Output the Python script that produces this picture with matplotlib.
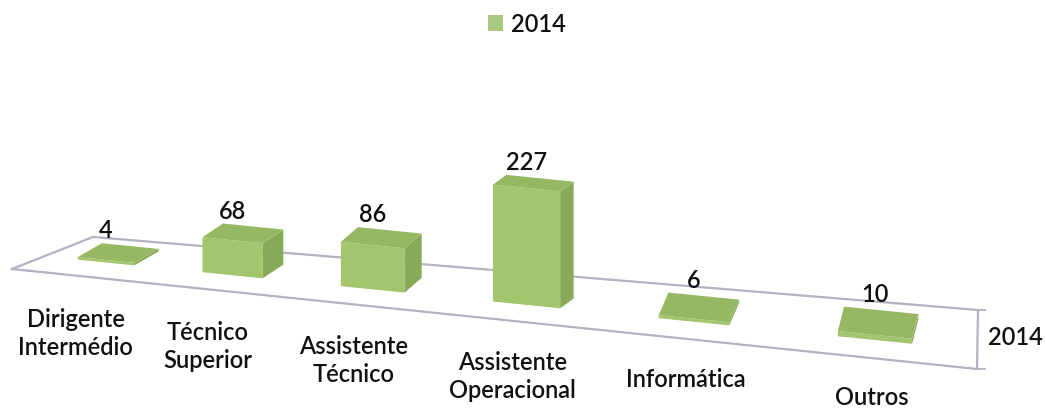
import numpy as np
import matplotlib.pyplot as plt
from matplotlib.patches import Polygon, Rectangle

plt.rcParams['font.family'] = ['Lato', 'DejaVu Sans']
plt.rcParams['font.weight'] = 'semibold'

# dados
categories = ['Dirigente\nIntermédio', 'Técnico\nSuperior', 'Assistente\nTécnico',
              'Assistente\nOperacional', 'Informática', 'Outros']
values_2014 = [4, 68, 86, 227, 6, 10]
series_name = '2014'

# cores
front_col = '#a2c56d'
top_col = '#97b862'
side_col = '#88a957'
floor_col = '#b5b0c2'
text_col = '#111111'
legend_col = '#a9c77f'

# chão (px): frente-esq, frente-dir, trás-dir, trás-esq
floor_pts = np.array([[12, 270], [977, 370], [978, 311], [93, 238]], float)
px_per_unit = 0.515


def front_center(u):
    # posição x do centro da face frontal (perspectiva aproximada)
    return 47.8 + 113 * u + 6.8 * u ** 2


def base_y(x):
    return 263.5 + 0.1008 * (x - 106)


def bar_faces(u, val):
    h = max(val * px_per_unit, 2.5)
    w = 55 + 3.5 * u
    dx = 26 - 3.6 * u
    dy = -(13 + 2.2 * u) * (1 - h / 220)
    xc = front_center(u)
    xl, xr = xc - w / 2, xc + w / 2
    fl = (xl, base_y(xl))
    fr = (xr, base_y(xr))
    ftl = (xl, fl[1] - h)
    ftr = (xr, fr[1] - h)
    btl = (xl + dx, ftl[1] + dy)
    btr = (xr + dx, ftr[1] + dy)
    br = (xr + dx, fr[1] + dy)
    front = [fl, fr, ftr, ftl]
    side = [fr, br, btr, ftr]
    top = [ftl, ftr, btr, btl]
    return front, side, top, xc, (btl[1] + btr[1]) / 2


fig = plt.figure(figsize=(10.46, 4.10), dpi=100)
ax = fig.add_axes([0, 0, 1, 1])
ax.set_xlim(0, 1046)
ax.set_ylim(410, 0)
ax.axis('off')

# linhas do chão
fl_ = np.vstack([floor_pts, floor_pts[:1]])
ax.plot(fl_[:, 0], fl_[:, 1], color=floor_col, lw=1.6, zorder=1, solid_joinstyle='miter')
for yy in (311, 370):
    ax.plot([978, 985], [yy, yy], color=floor_col, lw=1.3, zorder=1)
ax.text(1015, 338, series_name, fontsize=17, color=text_col, ha='center', va='center')

for i, (lab, val) in enumerate(zip(categories, values_2014)):
    u = i + 0.5
    front, side, top, xc, ytop = bar_faces(u, val)
    ax.add_patch(Polygon(front, closed=True, fc=front_col, ec='none', zorder=3))
    ax.add_patch(Polygon(side, closed=True, fc=side_col, ec='none', zorder=3))
    ax.add_patch(Polygon(top, closed=True, fc=top_col, ec='none', zorder=3))
    ax.text(xc, ytop - 5, str(val), fontsize=17, color=text_col, ha='center', va='bottom', zorder=4)
    lx = xc - (33 - 5.5 * u)
    ax.text(lx, base_y(xc) + 45, lab, fontsize=17, color=text_col, ha='center', va='top',
            linespacing=1.25, zorder=4)

# legenda
ax.add_patch(Rectangle((488, 16), 15, 16, fc=legend_col, ec='none'))
ax.text(511, 24, series_name, fontsize=17, color=text_col, ha='left', va='center')

fig.savefig('out.png', dpi=100)
